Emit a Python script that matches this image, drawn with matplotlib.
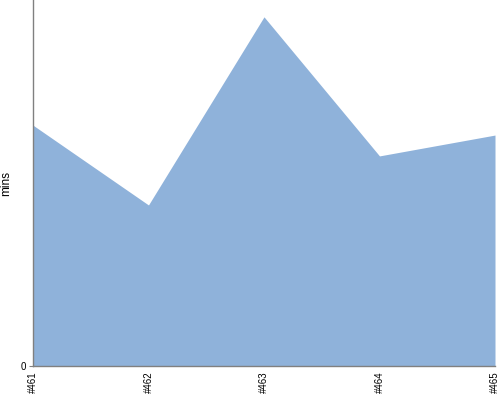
import matplotlib
matplotlib.use('Agg')
import matplotlib.pyplot as plt

builds = ['#461', '#462', '#463', '#464', '#465']
mins = [65.8, 44.0, 95.4, 57.4, 63.1]

fig = plt.figure(figsize=(5, 4), dpi=100)
ax = fig.add_axes([0.066, 0.085, 0.924, 0.915])

x = list(range(len(builds)))
ax.fill_between(x, 0, mins, color='#8fb2da', linewidth=0)

ax.set_xlim(0, len(builds) - 1)
ax.set_ylim(0, 100)
ax.set_xticks(x)
ax.set_xticklabels(builds, rotation=90, fontsize=7, fontfamily='Liberation Sans')
ax.set_yticks([0])
ax.set_yticklabels(['0'], fontsize=7, fontfamily='Liberation Sans')
ax.tick_params(axis='x', length=0, pad=4)
ax.tick_params(axis='y', length=3, width=0.8, color='#808080', pad=2)
ax.set_ylabel('mins', fontsize=8.5, fontfamily='Liberation Sans')
ax.yaxis.set_label_coords(-0.045, 0.5)

for side in ['top', 'right']:
    ax.spines[side].set_visible(False)
for side in ['left', 'bottom']:
    ax.spines[side].set_color('#808080')
    ax.spines[side].set_linewidth(1)

fig.savefig('out.png', dpi=100)
